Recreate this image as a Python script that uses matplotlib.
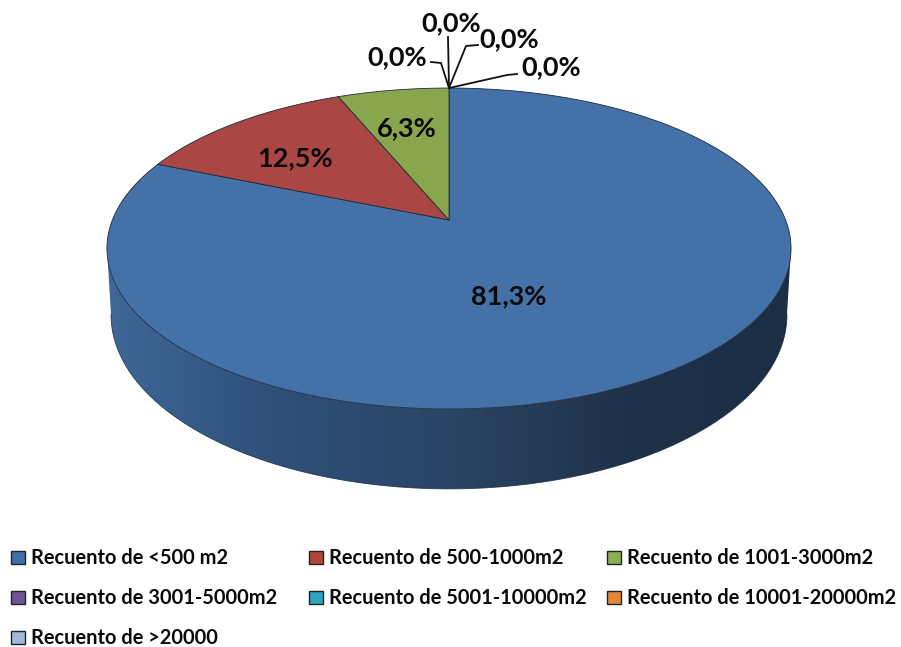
import numpy as np
import matplotlib
matplotlib.use("Agg")
import matplotlib.pyplot as plt
from matplotlib.patches import Polygon, Rectangle
from matplotlib.colors import LinearSegmentedColormap

categories = ["Recuento de <500 m2", "Recuento de 500-1000m2", "Recuento de 1001-3000m2",
              "Recuento de 3001-5000m2", "Recuento de 5001-10000m2", "Recuento de 10001-20000m2",
              "Recuento de >20000"]
counts = [13, 2, 1, 0, 0, 0, 0]
pct_labels = ["81,3%", "12,5%", "6,3%", "0,0%", "0,0%", "0,0%", "0,0%"]
top_colors = ["#4472A8", "#AA4644", "#89A54E", "#71588F", "#4198AF", "#DB843D", "#93A9CF"]
legend_colors = ["#3F6FA8", "#B3443C", "#8CB050", "#6F5597", "#2FA3C0", "#E4863A", "#A3B7DB"]
side_stops = ["#3F6898", "#2E4F78", "#2A4565", "#1F324A", "#1B2E44"]

plt.rcParams["font.family"] = ["Lato", "DejaVu Sans"]
fig = plt.figure(figsize=(9.01, 6.47), dpi=100)
ax = fig.add_axes([0, 0, 1, 1])
ax.set_xlim(0, 901); ax.set_ylim(647, 0); ax.axis("off")

K = 0.1776
CX = 449

def proj(theta, y0, a, b):
    """Clockwise angle from 12 o'clock on the disc -> perspective picture position."""
    x, y = np.sin(theta), np.cos(theta)
    w = 1 + K * y
    return CX + a * x / w, y0 - b * y / w

TOP = dict(y0=220, a=336.6, b=155.4)
BOT = dict(y0=284, a=332.6, b=168.5)

# side wall: between the picture-extreme points of the top and bottom discs
t_all = np.linspace(0, 2 * np.pi, 720)
xs, _ = proj(t_all, **TOP)
t_front = np.linspace(t_all[np.argmax(xs)], t_all[np.argmin(xs)], 300)
tx, ty = proj(t_front, **TOP)
xb, _ = proj(t_all, **BOT)
t_front2 = np.linspace(t_all[np.argmax(xb)], t_all[np.argmin(xb)], 300)
bx, by = proj(t_front2, **BOT)
side = Polygon(np.r_[np.c_[tx, ty], np.c_[bx, by][::-1]], closed=True, fc="none", ec="none")
ax.add_patch(side)
cmap = LinearSegmentedColormap.from_list("side", side_stops)
im = ax.imshow(np.linspace(0, 1, 256)[None, :], extent=(105, 793, 500, 230), cmap=cmap,
               aspect="auto", zorder=1)
im.set_clip_path(side)
ax.plot(bx, by, color="#16283F", lw=0.6, alpha=0.8, zorder=2)
ax.set_xlim(0, 901); ax.set_ylim(647, 0)

# top surface wedges (clockwise from 12 o'clock, starting with the first category)
fracs = np.array(counts, float) / sum(counts)
edges = np.r_[0, np.cumsum(fracs)] * 2 * np.pi
apex = proj(0.0, **TOP)
apex_xy = (CX, TOP["y0"])
for i in range(len(counts)):
    if fracs[i] == 0:
        continue
    th = np.linspace(edges[i], edges[i + 1], 300)
    px, py = proj(th, **TOP)
    pts = np.r_[[apex_xy], np.c_[px, py]]
    ax.add_patch(Polygon(pts, closed=True, fc=top_colors[i], ec="#1C2B3C", lw=0.6,
                         joinstyle="round", zorder=3))

# value labels
label_pos = [(509, 296), (295, 158), (407, 128), (397, 57), (451, 23), (509, 39), (551, 67)]
for (lx, ly), s in zip(label_pos, pct_labels):
    ax.text(lx, ly, s, ha="center", va="center", fontsize=19.5, fontweight="bold",
            color="#0A0A0A", zorder=6)

# leader lines for the empty slices
leaders = [[(431, 62), (441, 63)], [(448, 37)], [(478, 45), (466, 46)], [(517, 74), (507, 75)]]
for pts in leaders:
    arr = np.array(pts + [tuple(apex)])
    ax.plot(arr[:, 0], arr[:, 1], color="#111111", lw=1.3, zorder=5)

# legend
col_x = [11, 309, 607]
row_y = [557, 597, 637]
for i, (name, c) in enumerate(zip(categories, legend_colors)):
    x = col_x[i % 3]; y = row_y[i // 3]
    ax.add_patch(Rectangle((x, y - 6.5), 13.5, 13, fc=c, ec="#222222", lw=1.0, zorder=4))
    ax.text(x + 20, y + 1.5, name, ha="left", va="center", fontsize=14.4, fontweight="bold",
            color="#0A0A0A", zorder=4)

fig.savefig("out.png", dpi=100, facecolor="white")
